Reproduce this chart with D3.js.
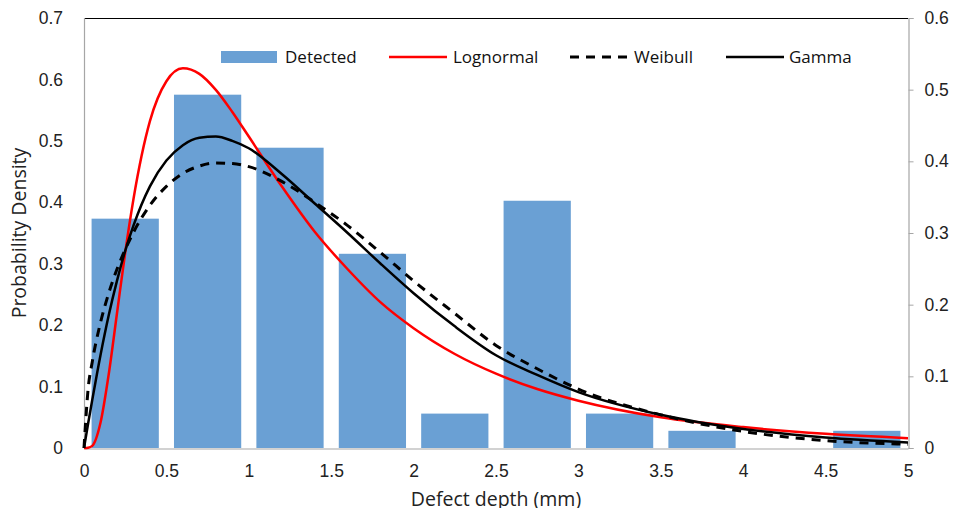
<!DOCTYPE html>
<html>
<head>
<meta charset="utf-8">
<script src="https://cdn.jsdelivr.net/npm/d3@7"></script>
<style>
  body { margin: 0; background: #fff; }
  svg { font-family: "Open Sans", "Noto Sans", sans-serif; }
  .tick-label { font-size: 17.5px; fill: #222; }
  .axis-title { font-size: 19.5px; fill: #222; }
  .legend-text { font-size: 17px; fill: #111; }
</style>
</head>
<body>
<svg id="chart" width="955" height="508"></svg>
<script>
// Histogram of detected defects (bin start, density on the right axis)
var binStarts = [0, 0.5, 1, 1.5, 2, 2.5, 3, 3.5, 4, 4.5];
var detected = [0.320, 0.493, 0.419, 0.271, 0.048, 0.345, 0.048, 0.024, 0, 0.024];

// Fitted curves (left axis)
var curveX    = [0, 0.025, 0.05, 0.1, 0.15, 0.2, 0.25, 0.3, 0.4, 0.5, 0.6, 0.7, 0.8, 0.9, 1.0, 1.2, 1.4, 1.6, 1.8, 2.0, 2.25, 2.5, 2.75, 3.0, 3.5, 4.0, 4.5, 5.0];
var lognormal = [0, 0.0005, 0.0034, 0.041, 0.120, 0.219, 0.318, 0.405, 0.532, 0.597, 0.618, 0.609, 0.583, 0.547, 0.507, 0.426, 0.352, 0.291, 0.237, 0.195, 0.153, 0.121, 0.096, 0.077, 0.050, 0.034, 0.023, 0.016];
var weibull   = [0, 0.096, 0.140, 0.204, 0.252, 0.291, 0.323, 0.351, 0.395, 0.426, 0.447, 0.459, 0.464, 0.463, 0.458, 0.434, 0.400, 0.362, 0.318, 0.272, 0.219, 0.167, 0.129, 0.096, 0.054, 0.027, 0.012, 0.006];
var gamma     = [0, 0.040, 0.078, 0.151, 0.216, 0.272, 0.321, 0.362, 0.426, 0.468, 0.493, 0.505, 0.507, 0.500, 0.488, 0.446, 0.398, 0.350, 0.300, 0.252, 0.198, 0.151, 0.119, 0.091, 0.054, 0.031, 0.017, 0.009];

var xTicks = [0, 0.5, 1, 1.5, 2, 2.5, 3, 3.5, 4, 4.5, 5];
var leftTicks = [0, 0.1, 0.2, 0.3, 0.4, 0.5, 0.6, 0.7];
var rightTicks = [0, 0.1, 0.2, 0.3, 0.4, 0.5, 0.6];

function drawChart() {
  var svg = d3.select("#chart");
  var plotLeft = 84, plotRight = 908, plotTop = 18, plotBottom = 448;

  var x = d3.scaleLinear().domain([0, 5]).range([plotLeft, plotRight]);
  var yLeft = d3.scaleLinear().domain([0, 0.7]).range([plotBottom, plotTop]);
  var yRight = d3.scaleLinear().domain([0, 0.6]).range([plotBottom, plotTop]);
  var fmt = function(d) { return d === 0 ? "0" : d3.format(".1f")(d); };

  // bars
  var inset = 0.046;
  svg.append("g").selectAll("rect")
    .data(binStarts)
    .enter().append("rect")
    .attr("x", function(d) { return x(d + inset); })
    .attr("width", function(d) { return x(d + 0.5 - inset) - x(d + inset); })
    .attr("y", function(d, i) { return yRight(detected[i]); })
    .attr("height", function(d, i) { return plotBottom - yRight(detected[i]); })
    .attr("fill", "#6aa0d4");

  // frame: top black, left grey
  svg.append("line").attr("x1", plotLeft).attr("x2", plotRight)
    .attr("y1", plotTop + 0.5).attr("y2", plotTop + 0.5)
    .attr("stroke", "#000").attr("stroke-width", 1.2);
  svg.append("line").attr("x1", plotLeft + 0.5).attr("x2", plotLeft + 0.5)
    .attr("y1", plotTop).attr("y2", plotBottom)
    .attr("stroke", "#a6a6a6").attr("stroke-width", 1.2);

  // left axis
  var leftAxis = svg.append("g")
    .attr("transform", "translate(" + plotLeft + ",0)")
    .call(d3.axisLeft(yLeft).tickValues(leftTicks).tickSize(0).tickPadding(21).tickFormat(fmt));
  leftAxis.select(".domain").remove();
  leftAxis.selectAll("text").attr("class", "tick-label").attr("fill", null);

  // right axis
  var rightAxis = svg.append("g")
    .attr("transform", "translate(" + (plotRight + 0.5) + ",0)")
    .call(d3.axisRight(yRight).tickValues(rightTicks).tickSize(5).tickPadding(11).tickFormat(fmt));
  rightAxis.select(".domain").attr("stroke", "#a6a6a6").attr("stroke-width", 1.2);
  rightAxis.selectAll("line").attr("stroke", "#a6a6a6");
  rightAxis.selectAll("text").attr("class", "tick-label").attr("fill", null);

  // bottom axis
  var bottomAxis = svg.append("g")
    .attr("transform", "translate(0," + (plotBottom + 0.5) + ")")
    .call(d3.axisBottom(x).tickValues(xTicks).tickSize(0).tickPadding(16)
      .tickFormat(function(d) { return String(d); }));
  bottomAxis.select(".domain").attr("stroke", "#a6a6a6").attr("stroke-width", 1.2);
  bottomAxis.selectAll("text").attr("class", "tick-label").attr("fill", null);

  // curves
  function lineFor(values) {
    return d3.line()
      .x(function(d, i) { return x(curveX[i]); })
      .y(function(d) { return yLeft(d); })
      .curve(d3.curveMonotoneX)(values);
  }
  svg.append("path").attr("d", lineFor(lognormal))
    .attr("fill", "none").attr("stroke", "#ff0000").attr("stroke-width", 2.5);
  svg.append("path").attr("d", lineFor(weibull))
    .attr("fill", "none").attr("stroke", "#000").attr("stroke-width", 3)
    .attr("stroke-dasharray", "9,7");
  svg.append("path").attr("d", lineFor(gamma))
    .attr("fill", "none").attr("stroke", "#000").attr("stroke-width", 2.5);

  // titles
  svg.append("text").attr("class", "axis-title")
    .attr("x", 496).attr("y", 506)
    .attr("text-anchor", "middle").text("Defect depth (mm)");
  svg.append("text").attr("class", "axis-title")
    .attr("transform", "translate(26," + ((plotTop + plotBottom) / 2) + ") rotate(-90)")
    .attr("text-anchor", "middle").text("Probability Density");

  // legend
  var legendY = 57;
  var legend = svg.append("g");
  legend.append("rect").attr("x", 221).attr("y", legendY - 6).attr("width", 56).attr("height", 12)
    .attr("fill", "#6aa0d4");
  legend.append("text").attr("class", "legend-text").attr("x", 285).attr("y", legendY + 6).text("Detected");
  legend.append("line").attr("x1", 389).attr("x2", 447).attr("y1", legendY).attr("y2", legendY)
    .attr("stroke", "#ff0000").attr("stroke-width", 2.5);
  legend.append("text").attr("class", "legend-text").attr("x", 453).attr("y", legendY + 6).text("Lognormal");
  legend.append("line").attr("x1", 570).attr("x2", 630).attr("y1", legendY).attr("y2", legendY)
    .attr("stroke", "#000").attr("stroke-width", 3).attr("stroke-dasharray", "9,7");
  legend.append("text").attr("class", "legend-text").attr("x", 634).attr("y", legendY + 6).text("Weibull");
  legend.append("line").attr("x1", 726).attr("x2", 784).attr("y1", legendY).attr("y2", legendY)
    .attr("stroke", "#000").attr("stroke-width", 2.5);
  legend.append("text").attr("class", "legend-text").attr("x", 789).attr("y", legendY + 6).text("Gamma");
}
drawChart();
</script>
</body>
</html>
